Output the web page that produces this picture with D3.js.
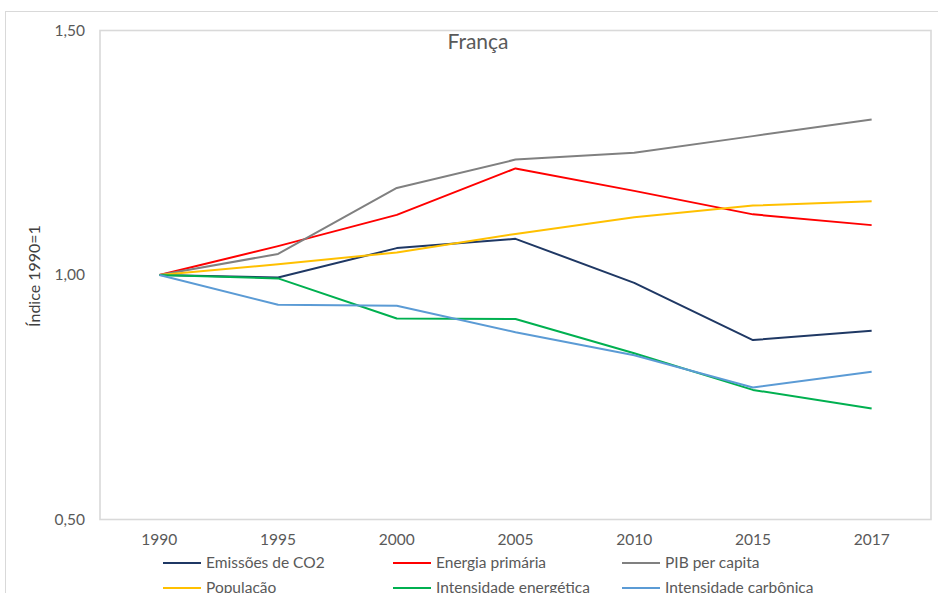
<!DOCTYPE html>
<html>
<head>
<meta charset="utf-8">
<script src="https://cdn.jsdelivr.net/npm/d3@7"></script>
<style>
  html, body { margin: 0; padding: 0; background: #fff; }
  svg { display: block; }
  text { font-family: Lato, "Open Sans", sans-serif; }
</style>
</head>
<body>
<svg id="chart" width="938" height="593"></svg>
<script>
// Indicators for France, index 1990 = 1
const years = ["1990", "1995", "2000", "2005", "2010", "2015", "2017"];
const emissoesCO2 = [1.000, 0.995, 1.055, 1.074, 0.984, 0.867, 0.886];
const energiaPrimaria = [1.000, 1.059, 1.123, 1.218, 1.172, 1.124, 1.102];
const pibPerCapita = [1.000, 1.043, 1.178, 1.236, 1.250, 1.284, 1.318];
const populacao = [1.000, 1.022, 1.046, 1.084, 1.118, 1.142, 1.151];
const intensidadeEnergetica = [1.000, 0.993, 0.911, 0.910, 0.840, 0.765, 0.727];
const intensidadeCarbonica = [1.000, 0.939, 0.937, 0.883, 0.836, 0.770, 0.802];
const yTicks = [0.5, 1.0, 1.5];

const seriesNames = ["Emissões de CO2", "Energia primária", "PIB per capita",
                     "População", "Intensidade energética", "Intensidade carbônica"];
const seriesValues = [emissoesCO2, energiaPrimaria, pibPerCapita,
                      populacao, intensidadeEnergetica, intensidadeCarbonica];
const seriesColors = ["#1F3864", "#FF0000", "#808080", "#FFC000", "#00B050", "#5B9BD5"];

const series = seriesNames.map((name, i) => ({
  name, color: seriesColors[i],
  values: seriesValues[i].map((v, j) => ({ year: years[j], v }))
}));

const svg = d3.select("#chart");
const plot = { left: 100, top: 30.5, right: 931, bottom: 519.5 };

// chart area frame
svg.append("rect")
  .attr("x", 5.5).attr("y", 11.5).attr("width", 980).attr("height", 620)
  .attr("fill", "#fff").attr("stroke", "#d9d9d9").attr("stroke-width", 1);

const x = d3.scaleBand().domain(years).range([plot.left, plot.right]).padding(0);
const y = d3.scaleLinear().domain([0.5, 1.5]).range([plot.bottom, plot.top]);

// plot area frame
svg.append("rect")
  .attr("x", plot.left).attr("y", plot.top)
  .attr("width", plot.right - plot.left).attr("height", plot.bottom - plot.top)
  .attr("fill", "none").attr("stroke", "#d9d9d9").attr("stroke-width", 1.6);

// y axis labels
const yAxis = d3.axisLeft(y).tickValues(yTicks).tickSize(0).tickPadding(15)
  .tickFormat(d => d3.format(".2f")(d).replace(".", ","));
const gy = svg.append("g").attr("transform", `translate(${plot.left},0)`).call(yAxis);
gy.select(".domain").remove();
gy.selectAll("text").attr("fill", "#595959").style("font-size", "15.5px")
  .style("font-family", "Lato, sans-serif");

// x axis labels
const xAxis = d3.axisBottom(x).tickSize(0).tickPadding(14);
const gx = svg.append("g").attr("transform", `translate(0,${plot.bottom})`).call(xAxis);
gx.select(".domain").remove();
gx.selectAll("text").attr("fill", "#595959").style("font-size", "15.5px")
  .style("font-family", "Lato, sans-serif");

// lines
const line = d3.line()
  .x(d => x(d.year) + x.bandwidth() / 2)
  .y(d => y(d.v));

svg.append("g").selectAll("path")
  .data(series)
  .join("path")
  .attr("d", d => line(d.values))
  .attr("fill", "none")
  .attr("stroke", d => d.color)
  .attr("stroke-width", 2)
  .attr("stroke-linejoin", "round");

// title
svg.append("text")
  .attr("x", 478).attr("y", 49)
  .attr("text-anchor", "middle")
  .attr("fill", "#595959")
  .style("font-size", "21px")
  .text("França");

// y axis title
svg.append("text")
  .attr("transform", "translate(40,276) rotate(-90)")
  .attr("text-anchor", "middle")
  .attr("fill", "#404040")
  .style("font-size", "16px")
  .text("Índice 1990=1");

// legend
const legendCols = [163, 393, 622];
const legendRows = [563, 588];
const legend = svg.append("g").selectAll("g")
  .data(series)
  .join("g")
  .attr("transform", (d, i) => `translate(${legendCols[i % 3]},${legendRows[Math.floor(i / 3)]})`);
legend.append("line")
  .attr("x1", 0).attr("x2", 38).attr("y1", 0).attr("y2", 0)
  .attr("stroke", d => d.color).attr("stroke-width", 2);
legend.append("text")
  .attr("x", 43).attr("y", 0).attr("dy", "0.35em")
  .attr("fill", "#595959")
  .style("font-size", "15.5px")
  .text(d => d.name);
</script>
</body>
</html>
